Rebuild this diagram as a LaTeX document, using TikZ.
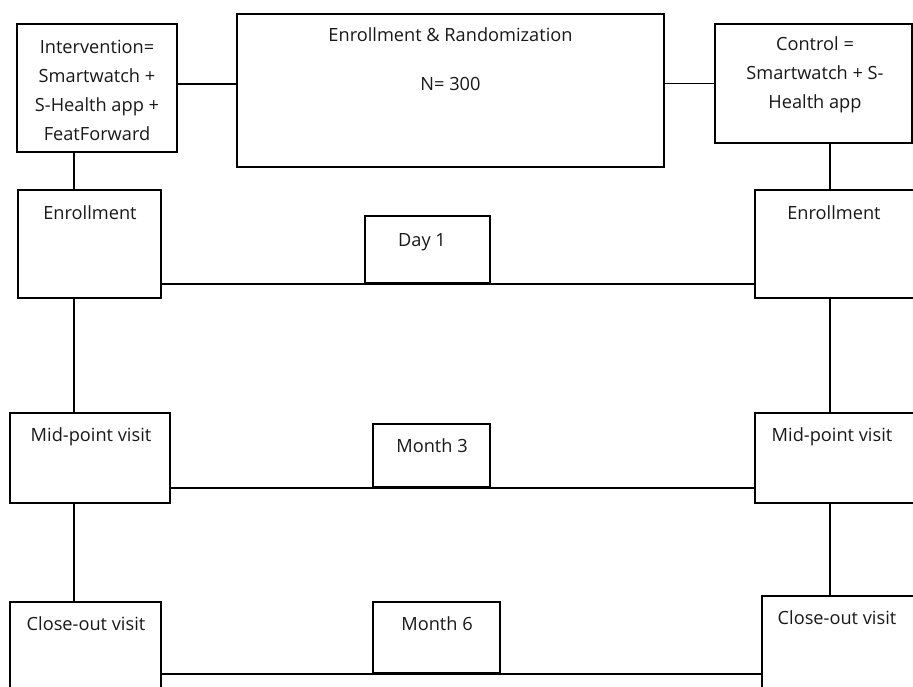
\documentclass[tikz,border=0pt]{standalone}
\usepackage{fontspec}
\setmainfont{Open Sans}
\begin{document}
\begin{tikzpicture}[x=1pt,y=-1pt,
  box/.style={draw=black, line width=1.7pt, rectangle, inner sep=0pt},
  lbl/.style={font=\fontsize{18.2}{29}\selectfont, inner sep=0pt, anchor=base, text=black!90},
  mlbl/.style={font=\fontsize{18.2}{29}\selectfont, inner sep=0pt, align=center, text=black!90},
  link/.style={draw=black, line width=1.9pt},
  thin link/.style={draw=black, line width=1.3pt}]
\useasboundingbox (0,0) rectangle (913,686);
\clip (0,0) rectangle (913,686);
\fill[white] (0,0) rectangle (913,686);

% top row: arms and randomisation
\node[box, minimum width=160, minimum height=128] (intv) at (97,88) {};
\node[box, minimum width=427, minimum height=153] (rand) at (450.5,90.5) {};
\node[box, minimum width=197, minimum height=119] (ctrl) at (813.5,83.5) {};

\node[mlbl] (intvT) at (97,90.5) {Intervention=\\Smartwatch +\\S-Health app +\\FeatForward};
\node[lbl] (randT) at (450.5,41.5) {Enrollment \& Randomization};
\node[lbl] (randN) at (450.5,90.5) {N= 300};
\node[mlbl] (ctrlT) at (815,75) {Control =\\Smartwatch + S-\\Health app};

% visit boxes
\node[box, minimum width=143, minimum height=108] (enrL) at (89.5,244) {};
\node[box, minimum width=125, minimum height=67] (day) at (427.5,249.5) {};
\node[box, minimum width=159, minimum height=108] (enrR) at (834.5,244) {};

\node[box, minimum width=160, minimum height=90] (midL) at (90,458) {};
\node[box, minimum width=117, minimum height=63] (m3) at (431.5,455.5) {};
\node[box, minimum width=159, minimum height=90] (midR) at (834.5,458) {};

\node[box, minimum width=151, minimum height=98] (cloL) at (85.5,651) {};
\node[box, minimum width=127, minimum height=71] (m6) at (436.5,637.5) {};
\node[box, minimum width=152, minimum height=104] (cloR) at (838,648) {};

\node[lbl] (enrLT) at (90,219.5) {Enrollment};
\node[lbl] (dayT) at (422,246.5) {Day 1};
\node[lbl] (enrRT) at (834,219.5) {Enrollment};
\node[lbl] (midLT) at (91,441.5) {Mid-point visit};
\node[lbl] (m3T) at (432,452.5) {Month 3};
\node[lbl] (midRT) at (832,441.5) {Mid-point visit};
\node[lbl] (cloLT) at (86,630.5) {Close-out visit};
\node[lbl] (m6T) at (437,630.5) {Month 6};
\node[lbl] (cloRT) at (837,624.5) {Close-out visit};

% columns of the two arms
\coordinate (lx) at (74,0);
\coordinate (rx) at (830,0);

% connectors
\draw[link] ([yshift=4pt]intv.east) -- ([yshift=4pt]intv.east -| rand.west);
\draw[link] (ctrl.west) -- (ctrl.west -| rand.east);
\draw[link] (intv.south -| lx) -- (enrL.north -| lx);
\draw[thin link] (ctrl.south -| rx) -- (enrR.north -| rx);

\draw[line width=2.5pt] (day.south -| enrL.east) -- (day.south -| enrR.west);
\draw[thin link] (m3.south -| midL.east) -- (m3.south -| midR.west);
\draw[thin link] (m6.south -| cloL.east) -- (m6.south -| cloR.west);

\draw[thin link] (enrL.south -| lx) -- (midL.north -| lx);
\draw[thin link] (enrR.south -| rx) -- (midR.north -| rx);
\draw[link] (midL.south -| lx) -- (cloL.north -| lx);
\draw[thin link] (midR.south -| rx) -- (cloR.north -| rx);
\end{tikzpicture}
\end{document}
